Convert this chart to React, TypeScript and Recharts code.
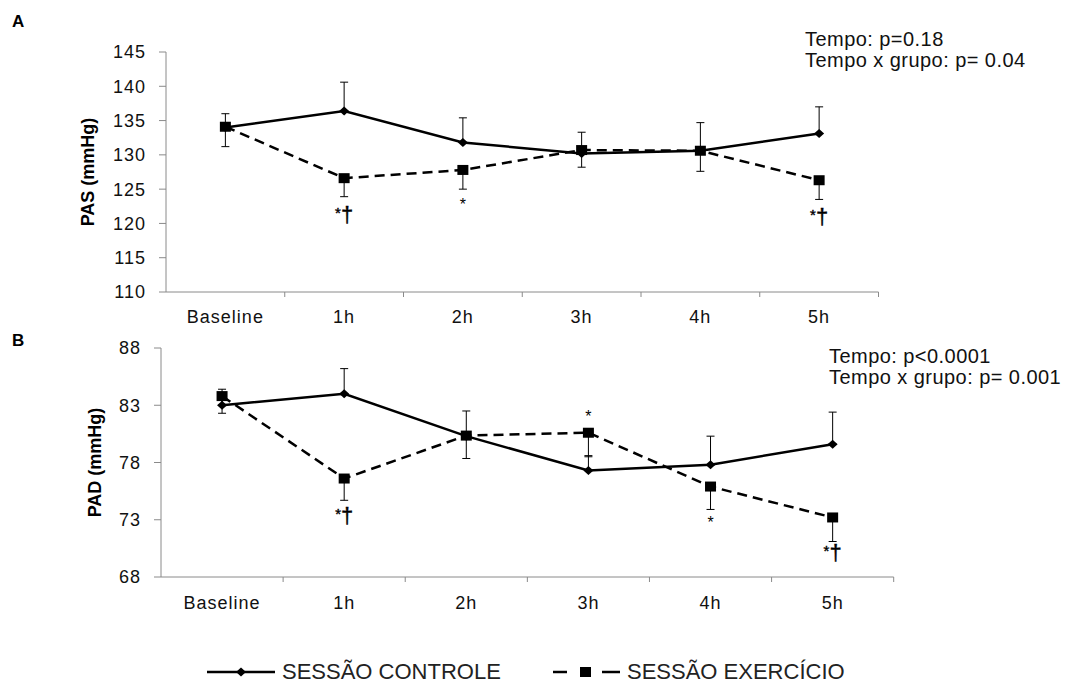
import React from 'react';
import { LineChart, Line, XAxis, YAxis, ErrorBar, LabelList } from 'recharts';

const categories = ['Baseline', '1h', '2h', '3h', '4h', '5h'];

// PAS (painel A)
const pasControle = [134.0, 136.4, 131.8, 130.2, 130.6, 133.1];
const pasControleErr = [2.0, 4.2, 3.6, 3.1, 4.1, 3.9];
const pasExercicio = [134.1, 126.6, 127.8, 130.7, 130.6, 126.3];
const pasExercicioErr = [2.9, 2.7, 2.8, 2.5, 3.0, 2.8];
const pasMarks = ['', '*†', '*', '', '', '*†'];
const pasMarkAt = [null, 120.2, 122.0, null, null, 119.9];
const pasTicks = [110, 115, 120, 125, 130, 135, 140, 145];

// PAD (painel B)
const padControle = [83.0, 84.0, 80.3, 77.3, 77.8, 79.6];
const padControleErr = [1.4, 2.2, 2.2, 1.3, 2.5, 2.8];
const padExercicio = [83.8, 76.6, 80.35, 80.6, 75.9, 73.2];
const padExercicioErr = [1.5, 1.9, 2.0, 2.1, 2.0, 2.1];
const padMarks = ['', '*†', '', '*', '*', '*†'];
const padMarkAt = [null, 72.7, null, 81.5, 72.3, 69.5];
const padTicks = [68, 73, 78, 83, 88];

const pasData = categories.map((name, i) => ({
  name,
  controle: pasControle[i],
  controleErr: [0, pasControleErr[i]],
  exercicio: pasExercicio[i],
  exercicioErr: [pasExercicioErr[i], 0],
  mark: pasMarks[i],
  markAt: pasMarkAt[i],
}));

const padData = categories.map((name, i) => ({
  name,
  controle: padControle[i],
  controleErr: [0, padControleErr[i]],
  exercicio: padExercicio[i],
  exercicioErr: [padExercicioErr[i], 0],
  mark: padMarks[i],
  markAt: padMarkAt[i],
}));

const AXIS = '#8a8a8a';
const FONT = '"Liberation Sans", Arial, sans-serif';

const Diamond = (props: any) => {
  const { cx, cy } = props;
  if (cx == null || cy == null) return null;
  return <path d={`M${cx - 5},${cy}L${cx},${cy - 4.5}L${cx + 5},${cy}L${cx},${cy + 4.5}Z`} fill="#000" />;
};

const Square = (props: any) => {
  const { cx, cy } = props;
  if (cx == null || cy == null) return null;
  return <rect x={cx - 5.5} y={cy - 5} width={11} height={10} fill="#000" />;
};

const CatTick = (props: any) => {
  const { x, y, payload, band, base } = props;
  return (
    <g>
      <line x1={x + band / 2} y1={y} x2={x + band / 2} y2={y + 5} stroke={AXIS} />
      <text x={x} y={y + base} textAnchor="middle" fontSize={18} letterSpacing={1} fill="#111">
        {payload.value}
      </text>
    </g>
  );
};

const Mark = (props: any) => {
  const { x, y, value } = props;
  if (!value || y == null || isNaN(y)) return null;
  if (value === '*') {
    return (
      <text x={x} y={y} textAnchor="middle" fontSize={16} fill="#000">
        *
      </text>
    );
  }
  return (
    <text x={x} y={y} textAnchor="middle" fill="#000" stroke="#000" strokeWidth={0.4}>
      <tspan fontSize={15} dy={-4}>*</tspan>
      <tspan fontSize={22} dy={4}>†</tspan>
    </text>
  );
};

const Panel = ({ data, ticks, domain, yLabel, width, height, margin, yWidth, band, base, labelDx }: any) => (
  <LineChart width={width} height={height} data={data} margin={margin}>
    <XAxis
      dataKey="name"
      stroke={AXIS}
      tickLine={false}
      tickSize={0}
      tickMargin={0}
      height={30}
      interval={0}
      padding={{ left: band / 2, right: band / 2 }}
      tick={(p: any) => <CatTick key={p.index} {...p} band={band} base={base} />}
    />
    <YAxis
      domain={domain}
      ticks={ticks}
      interval={0}
      width={yWidth}
      stroke={AXIS}
      tickSize={7}
      tickMargin={13}
      tick={{ fill: '#111', fontSize: 18, letterSpacing: 1 }}
      label={{
        value: yLabel,
        angle: -90,
        position: 'center',
        dx: labelDx,
        style: { fontWeight: 'bold', fontSize: 18, fill: '#000' },
      }}
    />
    <Line
      dataKey="controle"
      stroke="#000"
      strokeWidth={2.5}
      dot={(p: any) => <Diamond key={`d${p.index}`} {...p} />}
      activeDot={false}
      isAnimationActive={false}
    >
      <ErrorBar dataKey="controleErr" direction="y" width={4} stroke="#000" strokeWidth={1} isAnimationActive={false} />
    </Line>
    <Line
      dataKey="exercicio"
      stroke="#000"
      strokeWidth={2.5}
      strokeDasharray="10 6"
      dot={(p: any) => <Square key={`s${p.index}`} {...p} />}
      activeDot={false}
      isAnimationActive={false}
    >
      <ErrorBar dataKey="exercicioErr" direction="y" width={4} stroke="#000" strokeWidth={1} isAnimationActive={false} />
    </Line>
    <Line
      dataKey="markAt"
      stroke="transparent"
      dot={false}
      activeDot={false}
      legendType="none"
      isAnimationActive={false}
    >
      <LabelList dataKey="mark" content={<Mark />} />
    </Line>
  </LineChart>
);

const textStyle: React.CSSProperties = {
  position: 'absolute',
  fontSize: 20,
  letterSpacing: 0.45,
  lineHeight: '21px',
  color: '#111',
  whiteSpace: 'nowrap',
};

const legendText: React.CSSProperties = {
  position: 'absolute',
  top: 0,
  fontSize: 22,
  lineHeight: '20px',
  color: '#222',
  whiteSpace: 'nowrap',
};

export default function App() {
  return (
    <div
      style={{
        position: 'absolute',
        left: 0,
        top: 0,
        width: 1068,
        height: 683,
        background: '#fff',
        fontFamily: FONT,
        overflow: 'hidden',
      }}
    >
      <div style={{ position: 'absolute', left: 0, top: 0 }}>
        <Panel
          data={pasData}
          ticks={pasTicks}
          domain={[110, 145]}
          yLabel="PAS (mmHg)"
          width={1068}
          height={330}
          margin={{ top: 52, right: 189.5, bottom: 8, left: 0 }}
          yWidth={166}
          band={712.5 / 6}
          base={31}
          labelDx={5}
        />
      </div>
      <div style={{ position: 'absolute', left: 0, top: 330 }}>
        <Panel
          data={padData}
          ticks={padTicks}
          domain={[68, 88]}
          yLabel="PAD (mmHg)"
          width={1068}
          height={300}
          margin={{ top: 18, right: 174.3, bottom: 23, left: 0 }}
          yWidth={161}
          band={732.7 / 6}
          base={32}
          labelDx={14}
        />
      </div>

      <div style={{ position: 'absolute', left: 12, top: 13, fontWeight: 'bold', fontSize: 17, lineHeight: '17px' }}>A</div>
      <div style={{ position: 'absolute', left: 12, top: 332, fontWeight: 'bold', fontSize: 17, lineHeight: '17px' }}>B</div>

      <div style={{ ...textStyle, left: 805, top: 28.6 }}>
        Tempo: p=0.18
        <br />
        Tempo x grupo: p= 0.04
      </div>
      <div style={{ ...textStyle, left: 829, top: 345.6 }}>
        Tempo: p&lt;0.0001
        <br />
        Tempo x grupo: p= 0.001
      </div>

      <div style={{ position: 'absolute', left: 200, top: 662, width: 700, height: 21 }}>
        <svg width={90} height={21} style={{ position: 'absolute', left: 0, top: 0 }}>
          <line x1={7} y1={10} x2={75} y2={10} stroke="#000" strokeWidth={2.5} />
          <path d="M36,10L41,5.5L46,10L41,14.5Z" fill="#000" />
        </svg>
        <span style={{ ...legendText, left: 82 }}>SESSÃO CONTROLE</span>
        <svg width={80} height={21} style={{ position: 'absolute', left: 350, top: 0 }}>
          <line x1={3} y1={10} x2={17} y2={10} stroke="#000" strokeWidth={2.5} />
          <rect x={30} y={5} width={11} height={10} fill="#000" />
          <line x1={52} y1={10} x2={70} y2={10} stroke="#000" strokeWidth={2.5} />
        </svg>
        <span style={{ ...legendText, left: 427 }}>SESSÃO EXERCÍCIO</span>
      </div>
    </div>
  );
}
